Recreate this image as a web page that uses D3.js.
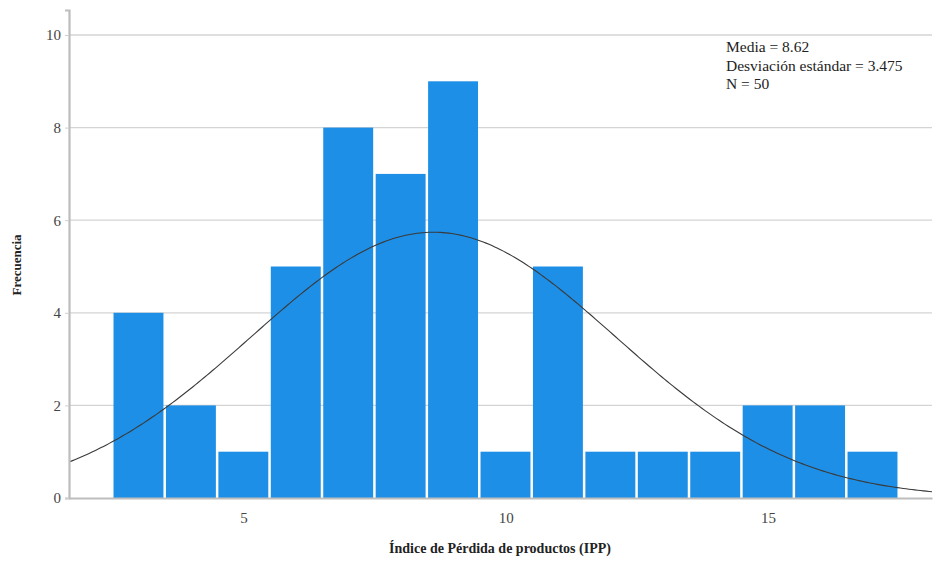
<!DOCTYPE html>
<html>
<head>
<meta charset="utf-8">
<script src="https://cdn.jsdelivr.net/npm/d3@7"></script>
<style>
  body { margin: 0; background: #fff; }
  svg text { font-family: "Liberation Serif", "Times New Roman", "DejaVu Serif", serif !important; }
</style>
</head>
<body>
<svg id="hist" width="934" height="564"></svg>
<script>
// bins (lower edge) and counts
var binStart = [2.5, 3.5, 4.5, 5.5, 6.5, 7.5, 8.5, 9.5, 10.5, 11.5, 12.5, 13.5, 14.5, 15.5, 16.5];
var counts   = [4, 2, 1, 5, 8, 7, 9, 1, 5, 1, 1, 1, 2, 2, 1];
var binWidth = 1;
var xTicks = [5, 10, 15];
var yTicks = [0, 2, 4, 6, 8, 10];
var stats = ["Media = 8.62", "Desviación estándar = 3.475", "N = 50"];
var mean = 8.62, sd = 3.475, n = 50;

var svg = d3.select("svg#hist"),
    margin = {left: 69, right: 2, top: 10, bottom: 66},
    width = +svg.attr("width"),
    height = +svg.attr("height");

var x = d3.scaleLinear()
    .domain([1.67, 18.13])
    .range([margin.left, width - margin.right]);

var y = d3.scaleLinear()
    .domain([0, 10.54])
    .range([height - margin.bottom, margin.top]);

// grid lines
svg.append("g").selectAll("line")
    .data(yTicks.filter(function(d) { return d > 0; }))
    .enter().append("line")
      .attr("x1", margin.left)
      .attr("x2", width - margin.right)
      .attr("y1", function(d) { return y(d); })
      .attr("y2", function(d) { return y(d); })
      .attr("stroke", "#d4d4d4")
      .attr("stroke-width", 1.3);

// bars
svg.append("g").selectAll("rect")
    .data(binStart)
    .enter().append("rect")
      .attr("x", function(d) { return x(d) + 1; })
      .attr("y", function(d, i) { return y(counts[i]); })
      .attr("width", function(d) { return x(d + binWidth) - x(d) - 2.5; })
      .attr("height", function(d, i) { return y(0) - y(counts[i]); })
      .attr("fill", "#1e8fe6");

// normal curve
var pts = d3.range(0, 301).map(function(i) {
  var v = x.domain()[0] + (x.domain()[1] - x.domain()[0]) * i / 300;
  var dens = Math.exp(-0.5 * Math.pow((v - mean) / sd, 2)) / (sd * Math.sqrt(2 * Math.PI));
  return [v, dens * n * binWidth];
});
svg.append("path")
    .datum(pts)
    .attr("fill", "none")
    .attr("stroke", "#3a3a3a")
    .attr("stroke-width", 1.1)
    .attr("d", d3.line()
      .x(function(d) { return x(d[0]); })
      .y(function(d) { return y(d[1]); }));

// axes
var yAxis = svg.append("g")
    .attr("transform", "translate(" + margin.left + ",0)")
    .call(d3.axisLeft(y).tickValues(yTicks).tickSize(4).tickPadding(4));
var xAxis = svg.append("g")
    .attr("transform", "translate(0," + y(0) + ")")
    .call(d3.axisBottom(x).tickValues(xTicks).tickSize(0).tickPadding(14));

[yAxis, xAxis].forEach(function(a) {
  a.attr("font-family", null);
  a.select(".domain").attr("stroke", "#bdbdbd").attr("stroke-width", 2.2);
  a.selectAll(".tick line").attr("stroke", "#cfcfcf");
  a.selectAll(".tick text")
      .attr("fill", "#444")
      .style("font-size", "15px");
});

// axis titles
svg.append("text")
    .attr("x", 500)
    .attr("y", 553)
    .attr("text-anchor", "middle")
    .attr("font-weight", "bold")
    .style("font-size", "14px")
    .attr("fill", "#222")
    .text("Índice de Pérdida de productos (IPP)");

svg.append("text")
    .attr("transform", "translate(21,265) rotate(-90)")
    .attr("text-anchor", "middle")
    .attr("font-weight", "bold")
    .style("font-size", "13px")
    .attr("fill", "#222")
    .text("Frecuencia");

// stats box
svg.append("g").selectAll("text")
    .data(stats)
    .enter().append("text")
      .attr("x", 726)
      .attr("y", function(d, i) { return 52 + i * 18.5; })
      .style("font-size", "15.5px")
      .attr("fill", "#222")
      .text(function(d) { return d; });
</script>
</body>
</html>
